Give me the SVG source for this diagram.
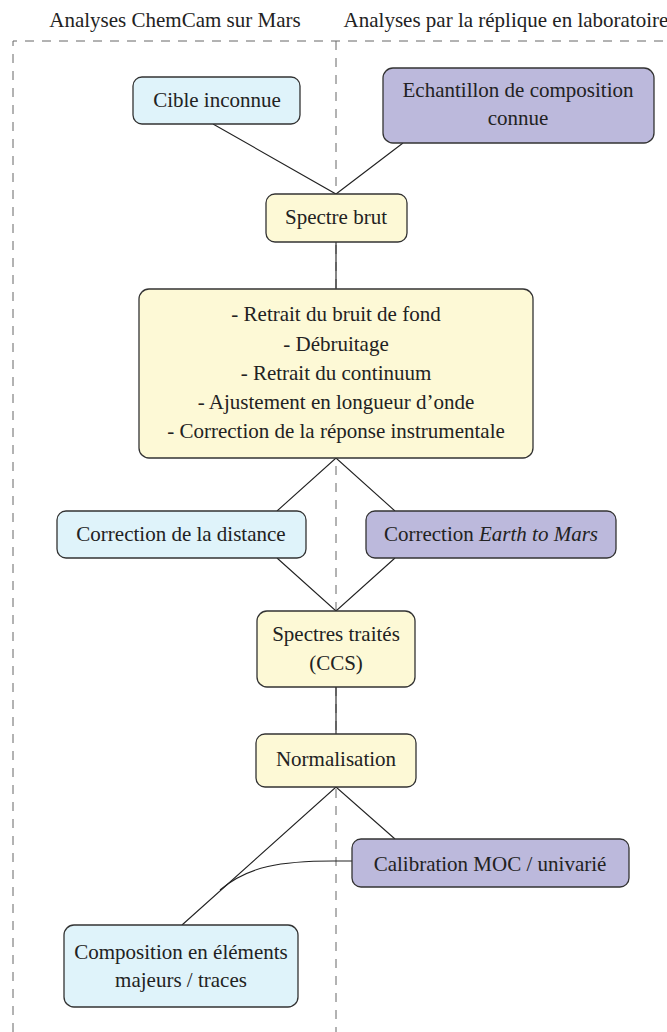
<svg xmlns="http://www.w3.org/2000/svg" width="667" height="1032" viewBox="0 0 667 1032">
<style>
text{font-family:"Liberation Serif","Times New Roman",serif;font-size:21px;fill:#222;text-anchor:middle}
.blue{fill:#dff3fa;stroke:#333;stroke-width:1.3}
.lav{fill:#bcb9dc;stroke:#333;stroke-width:1.3}
.yel{fill:#fdf9d6;stroke:#333;stroke-width:1.3}
.conn{fill:none;stroke:#222;stroke-width:1.1}
.dash{fill:none;stroke:#666;stroke-width:1;stroke-dasharray:9 8}
</style>
<rect width="667" height="1032" fill="#fff"/>
<g id="headers">
<text x="175" y="27">Analyses ChemCam sur Mars</text>
<text x="506" y="27">Analyses par la réplique en laboratoire</text>
</g>
<g id="zones">
<path class="dash" d="M13,1032 V41 H667"/>
<path class="dash" d="M336,41 V1032"/>
</g>
<g id="connectors">
<path class="conn" d="M213,124 L336,194 L403,143"/>
<path class="conn" d="M336,242 V289"/>
<path class="conn" d="M277,511 L336,458 L395,511"/>
<path class="conn" d="M277,558 L336,611 L395,558"/>
<path class="conn" d="M336,687 V734"/>
<path class="conn" d="M395,839 L336,787 L182,925"/>
<path class="conn" d="M352,861 H333 C282,861 248,866 220,890"/>
</g>
<g id="cible">
<rect class="blue" x="133" y="77" width="167" height="47" rx="9"/>
<text x="217" y="107">Cible inconnue</text>
</g>
<g id="echantillon">
<rect class="lav" x="383" y="68" width="271" height="75" rx="10"/>
<text x="518" y="97">Echantillon de composition</text>
<text x="518" y="125">connue</text>
</g>
<g id="spectre-brut">
<rect class="yel" x="266" y="194" width="141" height="48" rx="9"/>
<text x="336" y="224">Spectre brut</text>
</g>
<g id="traitements">
<rect class="yel" x="139" y="289" width="394" height="169" rx="10"/>
<text x="336" y="321">- Retrait du bruit de fond</text>
<text x="336" y="351">- Débruitage</text>
<text x="336" y="380">- Retrait du continuum</text>
<text x="336" y="409">- Ajustement en longueur d’onde</text>
<text x="336" y="438">- Correction de la réponse instrumentale</text>
</g>
<g id="correction-distance">
<rect class="blue" x="57" y="511" width="249" height="47" rx="9"/>
<text x="181" y="541">Correction de la distance</text>
</g>
<g id="correction-earth-mars">
<rect class="lav" x="366" y="511" width="250" height="47" rx="9"/>
<text x="491" y="541">Correction <tspan font-style="italic">Earth to Mars</tspan></text>
</g>
<g id="spectres-traites">
<rect class="yel" x="257" y="611" width="158" height="76" rx="10"/>
<text x="336" y="641">Spectres traités</text>
<text x="336" y="670">(CCS)</text>
</g>
<g id="normalisation">
<rect class="yel" x="256" y="734" width="160" height="53" rx="9"/>
<text x="336" y="766">Normalisation</text>
</g>
<g id="calibration">
<rect class="lav" x="352" y="839" width="277" height="48" rx="9"/>
<text x="490" y="871">Calibration MOC / univarié</text>
</g>
<g id="composition">
<rect class="blue" x="64" y="925" width="234" height="82" rx="10"/>
<text x="181" y="959">Composition en éléments</text>
<text x="181" y="987">majeurs / traces</text>
</g>
</svg>
